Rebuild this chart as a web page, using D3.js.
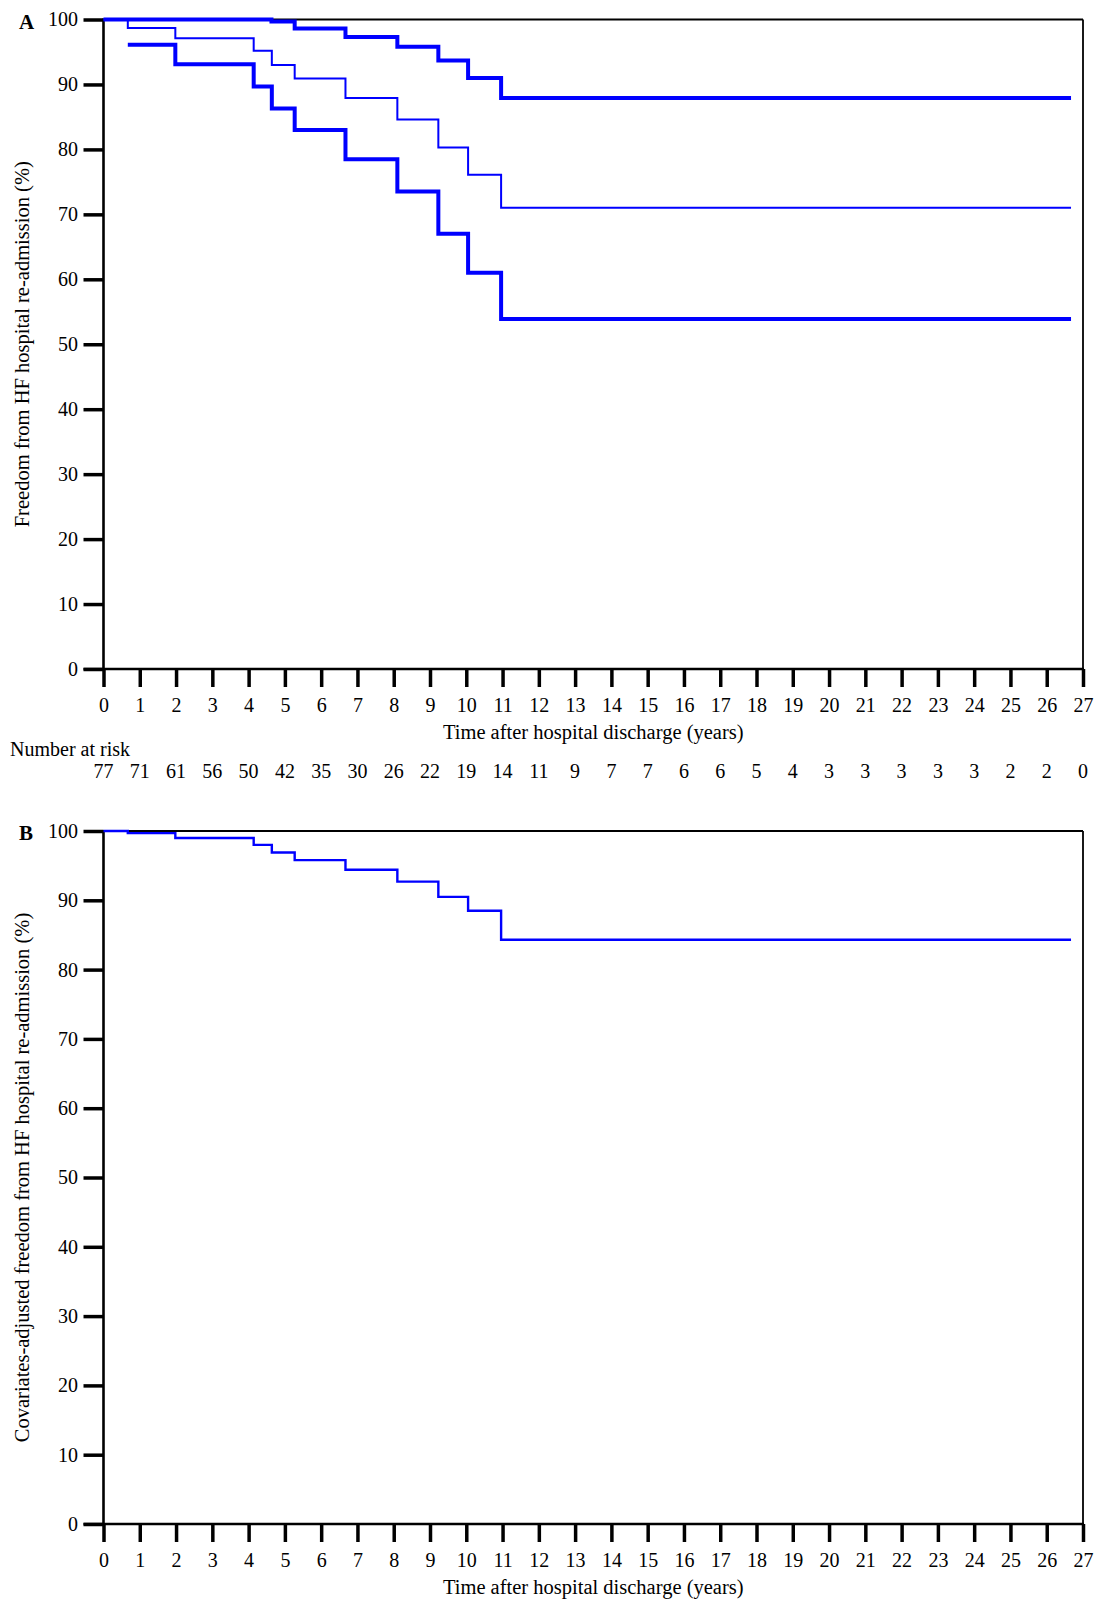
<!DOCTYPE html>
<html>
<head>
<meta charset="utf-8">
<script src="https://cdn.jsdelivr.net/npm/d3@7"></script>
<style>
  html, body { margin: 0; padding: 0; background: #fff; }
  svg text { font-family: "Liberation Serif", "Times New Roman", serif; fill: #000; }
</style>
</head>
<body>
<svg id="chart" width="1098" height="1602"></svg>
<script>
// ---------- Data ----------
const xTicks = d3.range(0, 28);           // 0..27 years
const yTicks = d3.range(0, 101, 10);      // 0..100 %
const numberAtRisk = [77, 71, 61, 56, 50, 42, 35, 30, 26, 22, 19, 14, 11, 9, 7, 7, 6, 6, 5, 4, 3, 3, 3, 3, 3, 2, 2, 0];
const followUpEnd = 26.67;

// Panel A curves (step functions: time of step, value after step)
const aUpperTimes  = [0, 4.63, 5.27, 6.67, 8.10, 9.23, 10.05, 10.96];
const aUpperValues = [100, 99.7, 98.6, 97.3, 95.8, 93.7, 91.0, 87.9];

const aMiddleTimes  = [0, 0.67, 1.98, 4.14, 4.64, 5.27, 6.67, 8.10, 9.23, 10.05, 10.96];
const aMiddleValues = [100, 98.7, 97.1, 95.2, 93.0, 90.9, 87.9, 84.6, 80.3, 76.1, 71.0];

const aLowerTimes  = [0.67, 1.98, 4.14, 4.64, 5.27, 6.67, 8.10, 9.23, 10.05, 10.96];
const aLowerValues = [96.1, 93.1, 89.7, 86.3, 83.0, 78.5, 73.5, 67.0, 61.0, 53.9];

// Panel B curve
const bTimes  = [0, 0.67, 1.98, 4.14, 4.64, 5.27, 6.67, 8.10, 9.23, 10.05, 10.96];
const bValues = [100, 99.7, 99.0, 98.0, 96.9, 95.8, 94.4, 92.7, 90.5, 88.5, 84.3];

// ---------- Drawing ----------
const svg = d3.select("#chart");
const FONT = 20;

function toPoints(times, values) {
  const pts = times.map((t, i) => ({ t, v: values[i] }));
  pts.push({ t: followUpEnd, v: values[values.length - 1] });
  return pts;
}

function panel(opts) {
  const { top, bottom, left, right, letter, yTitle, curves, risk } = opts;
  const x = d3.scaleLinear().domain([0, 27]).range([left, right]);
  const y = d3.scaleLinear().domain([0, 100]).range([bottom, top]);
  const g = svg.append("g");

  // frame: top & right thinner
  g.append("line").attr("x1", left).attr("x2", right).attr("y1", top).attr("y2", top)
    .attr("stroke", "#000").attr("stroke-width", 2);
  g.append("line").attr("x1", right).attr("x2", right).attr("y1", top).attr("y2", bottom)
    .attr("stroke", "#000").attr("stroke-width", 1.8);

  // y axis
  const ya = g.append("g").attr("transform", `translate(${left},0)`)
    .call(d3.axisLeft(y).tickValues(yTicks).tickSize(20).tickPadding(5.5).tickFormat(d3.format("d")));
  ya.select(".domain").remove();
  ya.selectAll(".tick line").attr("stroke", "#000").attr("stroke-width", 3.5);
  ya.selectAll(".tick text").attr("font-size", FONT).style("font-family", "Liberation Serif");

  // x axis
  const xa = g.append("g").attr("transform", `translate(0,${bottom})`)
    .call(d3.axisBottom(x).tickValues(xTicks).tickSize(18).tickPadding(11).tickFormat(d3.format("d")));
  xa.select(".domain").remove();
  xa.selectAll(".tick line").attr("stroke", "#000").attr("stroke-width", 3.5);
  xa.selectAll(".tick text").attr("font-size", FONT).style("font-family", "Liberation Serif");

  // left & bottom axis lines (thicker)
  g.append("line").attr("x1", left).attr("x2", left).attr("y1", top - 1).attr("y2", bottom + 1.5)
    .attr("stroke", "#000").attr("stroke-width", 2.6);
  g.append("line").attr("x1", left - 20).attr("x2", right + 1).attr("y1", bottom).attr("y2", bottom)
    .attr("stroke", "#000").attr("stroke-width", 2.6);

  // curves
  const line = d3.line().x(d => x(d.t)).y(d => y(d.v)).curve(d3.curveStepAfter);
  curves.forEach(c => {
    g.append("path").datum(toPoints(c.times, c.values))
      .attr("d", line).attr("fill", "none").attr("stroke", "#0000ff")
      .attr("stroke-width", c.width).attr("stroke-linejoin", "miter").attr("stroke-linecap", "butt");
  });

  // panel letter
  g.append("text").attr("x", 19).attr("y", top + 9).attr("font-size", 21)
    .attr("font-weight", "bold").text(letter);

  // axis titles
  g.append("text").attr("text-anchor", "middle")
    .attr("transform", `translate(29,${(top + bottom) / 2}) rotate(-90)`)
    .attr("font-size", 20.5).text(yTitle);
  g.append("text").attr("text-anchor", "middle")
    .attr("x", (left + right) / 2).attr("y", bottom + 70)
    .attr("font-size", 20.5).text("Time after hospital discharge (years)");

  if (risk) {
    g.append("text").attr("x", 10).attr("y", bottom + 87).attr("font-size", FONT).text("Number at risk");
    g.selectAll("text.risk").data(risk).enter().append("text")
      .attr("class", "risk").attr("text-anchor", "middle")
      .attr("x", (d, i) => x(xTicks[i])).attr("y", bottom + 109)
      .attr("font-size", FONT).text(d => d);
  }
}

panel({
  top: 19.5, bottom: 669, left: 103.5, right: 1083,
  letter: "A",
  yTitle: "Freedom from HF hospital re-admission (%)",
  curves: [
    { times: aMiddleTimes, values: aMiddleValues, width: 2 },
    { times: aUpperTimes, values: aUpperValues, width: 4 },
    { times: aLowerTimes, values: aLowerValues, width: 4 }
  ],
  risk: numberAtRisk
});

panel({
  top: 831, bottom: 1524, left: 103.5, right: 1083,
  letter: "B",
  yTitle: "Covariates-adjusted freedom from HF hospital re-admission (%)",
  curves: [
    { times: bTimes, values: bValues, width: 2.4 }
  ],
  risk: null
});
</script>
</body>
</html>
